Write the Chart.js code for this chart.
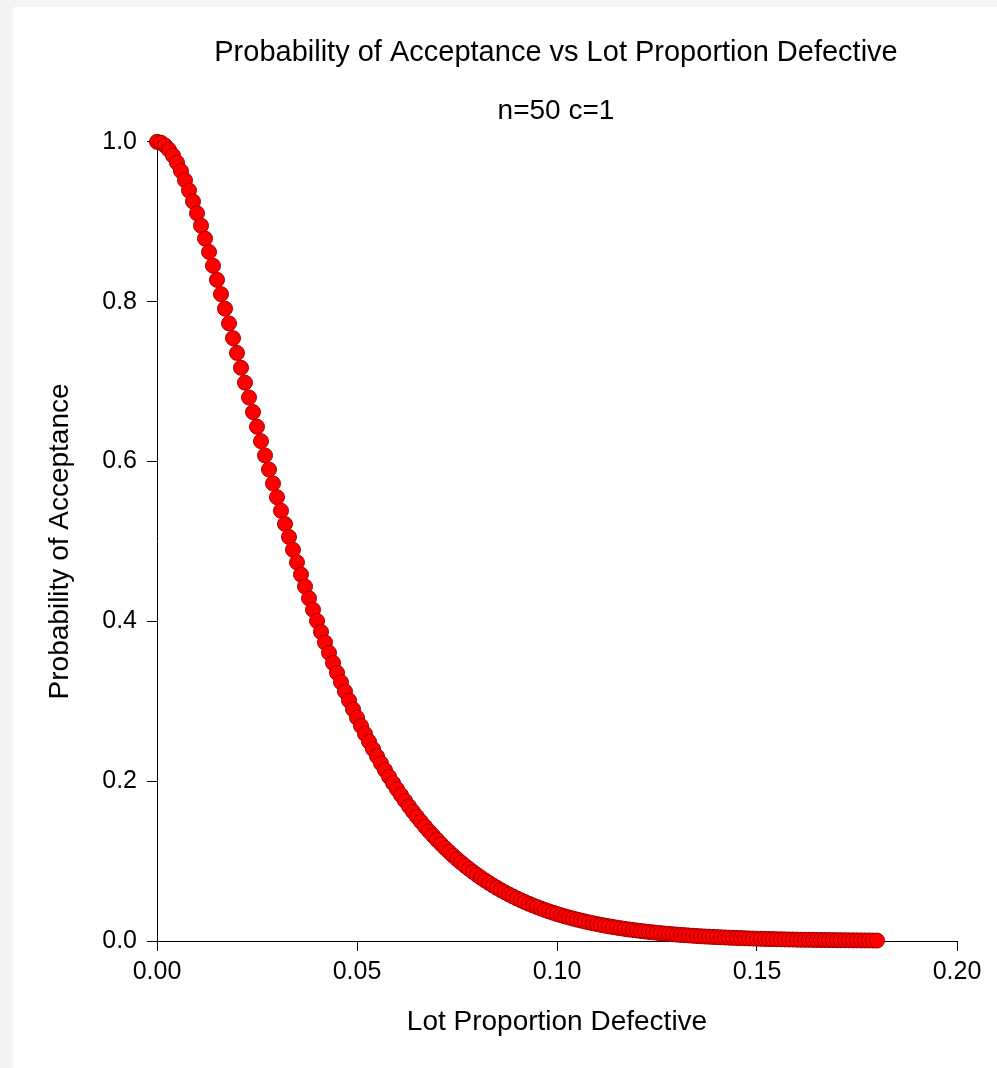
<!DOCTYPE html>
<html>
<head>
<meta charset="utf-8">
<title>Probability of Acceptance vs Lot Proportion Defective</title>
<script src="https://cdn.jsdelivr.net/npm/chart.js@4.4.1/dist/chart.umd.min.js"></script>
<style>
  html, body { margin: 0; padding: 0; background: #f4f4f4; overflow: hidden; }
  #oc-chart { position: absolute; left: 13px; top: 7px; background: #ffffff; }
</style>
</head>
<body>
<canvas id="oc-chart" width="1086" height="1061"></canvas>
<script>
// OC curve, single sampling plan n=50 c=1
const lotDefective = [
  0.000, 0.001, 0.002, 0.003, 0.004, 0.005, 0.006, 0.007, 0.008, 0.009,
  0.010, 0.011, 0.012, 0.013, 0.014, 0.015, 0.016, 0.017, 0.018, 0.019,
  0.020, 0.021, 0.022, 0.023, 0.024, 0.025, 0.026, 0.027, 0.028, 0.029,
  0.030, 0.031, 0.032, 0.033, 0.034, 0.035, 0.036, 0.037, 0.038, 0.039,
  0.040, 0.041, 0.042, 0.043, 0.044, 0.045, 0.046, 0.047, 0.048, 0.049,
  0.050, 0.051, 0.052, 0.053, 0.054, 0.055, 0.056, 0.057, 0.058, 0.059,
  0.060, 0.061, 0.062, 0.063, 0.064, 0.065, 0.066, 0.067, 0.068, 0.069,
  0.070, 0.071, 0.072, 0.073, 0.074, 0.075, 0.076, 0.077, 0.078, 0.079,
  0.080, 0.081, 0.082, 0.083, 0.084, 0.085, 0.086, 0.087, 0.088, 0.089,
  0.090, 0.091, 0.092, 0.093, 0.094, 0.095, 0.096, 0.097, 0.098, 0.099,
  0.100, 0.101, 0.102, 0.103, 0.104, 0.105, 0.106, 0.107, 0.108, 0.109,
  0.110, 0.111, 0.112, 0.113, 0.114, 0.115, 0.116, 0.117, 0.118, 0.119,
  0.120, 0.121, 0.122, 0.123, 0.124, 0.125, 0.126, 0.127, 0.128, 0.129,
  0.130, 0.131, 0.132, 0.133, 0.134, 0.135, 0.136, 0.137, 0.138, 0.139,
  0.140, 0.141, 0.142, 0.143, 0.144, 0.145, 0.146, 0.147, 0.148, 0.149,
  0.150, 0.151, 0.152, 0.153, 0.154, 0.155, 0.156, 0.157, 0.158, 0.159,
  0.160, 0.161, 0.162, 0.163, 0.164, 0.165, 0.166, 0.167, 0.168, 0.169,
  0.170, 0.171, 0.172, 0.173, 0.174, 0.175, 0.176, 0.177, 0.178, 0.179,
  0.180
];
const probAccept = [
  1.0000, 0.9988, 0.9954, 0.9900, 0.9827, 0.9739, 0.9635, 0.9519, 0.9391, 0.9253,
  0.9106, 0.8951, 0.8789, 0.8622, 0.8449, 0.8273, 0.8094, 0.7912, 0.7728, 0.7543,
  0.7358, 0.7172, 0.6986, 0.6801, 0.6618, 0.6435, 0.6254, 0.6075, 0.5899, 0.5724,
  0.5553, 0.5384, 0.5218, 0.5055, 0.4895, 0.4738, 0.4585, 0.4435, 0.4288, 0.4145,
  0.4005, 0.3868, 0.3735, 0.3606, 0.3480, 0.3357, 0.3238, 0.3122, 0.3010, 0.2900,
  0.2794, 0.2691, 0.2592, 0.2495, 0.2402, 0.2311, 0.2223, 0.2138, 0.2056, 0.1977,
  0.1900, 0.1826, 0.1754, 0.1685, 0.1618, 0.1554, 0.1492, 0.1432, 0.1374, 0.1319,
  0.1265, 0.1213, 0.1163, 0.1116, 0.1069, 0.1025, 0.0982, 0.0941, 0.0902, 0.0864,
  0.0827, 0.0792, 0.0758, 0.0726, 0.0695, 0.0665, 0.0636, 0.0609, 0.0582, 0.0557,
  0.0532, 0.0509, 0.0487, 0.0465, 0.0445, 0.0425, 0.0406, 0.0388, 0.0370, 0.0354,
  0.0338, 0.0323, 0.0308, 0.0294, 0.0281, 0.0268, 0.0256, 0.0244, 0.0233, 0.0222,
  0.0212, 0.0202, 0.0192, 0.0183, 0.0175, 0.0167, 0.0159, 0.0151, 0.0144, 0.0138,
  0.0131, 0.0125, 0.0119, 0.0113, 0.0108, 0.0103, 0.0098, 0.0093, 0.0089, 0.0084,
  0.0080, 0.0076, 0.0073, 0.0069, 0.0066, 0.0062, 0.0059, 0.0056, 0.0054, 0.0051,
  0.0049, 0.0046, 0.0044, 0.0042, 0.0040, 0.0038, 0.0036, 0.0034, 0.0032, 0.0031,
  0.0029, 0.0028, 0.0026, 0.0025, 0.0024, 0.0022, 0.0021, 0.0020, 0.0019, 0.0018,
  0.0017, 0.0016, 0.0015, 0.0015, 0.0014, 0.0013, 0.0013, 0.0012, 0.0011, 0.0011,
  0.0010, 0.0010, 0.0009, 0.0009, 0.0008, 0.0008, 0.0007, 0.0007, 0.0007, 0.0006,
  0.0006
];
const xTicks = [0, 0.05, 0.1, 0.15, 0.2];
const yTicks = [0, 0.2, 0.4, 0.6, 0.8, 1.0];

const FONT = "'Liberation Sans', Arial, sans-serif";
const points = lotDefective.map((p, i) => ({ x: p, y: probAccept[i] }));

const config = {
  type: "scatter",
  data: {
    datasets: [
      {
        label: "Pa",
        data: points,
        backgroundColor: "#ff0000",
        borderColor: "#a00000",
        borderWidth: 1,
        pointRadius: 7.5,
        pointHoverRadius: 7.5,
        clip: false,
        yAxisID: "y",
      },
    ],
  },
  options: {
    responsive: false,
    animation: false,
    devicePixelRatio: 1,
    layout: {
      padding: 0,
    },
    plugins: {
      legend: { display: false },
      tooltip: { enabled: false },
      title: {
        display: true,
        text: "Probability of Acceptance vs Lot Proportion Defective",
        color: "#000",
        font: { family: FONT, size: 29, weight: "normal" },
        padding: { top: 28.6, bottom: 23.6 },
      },
      subtitle: {
        display: true,
        text: "n=50 c=1",
        color: "#000",
        font: { family: FONT, size: 28, weight: "normal" },
        padding: { top: 0, bottom: 14.2 },
      },
    },
    scales: {
      x: {
        type: "linear",
        min: 0,
        max: 0.2,
        afterBuildTicks: (scale) => {
          scale.ticks = xTicks.map((v) => ({ value: v }));
        },
        afterFit: (scale) => {
          scale.height = 127;
        },
        ticks: {
          color: "#000",
          padding: 6,
          font: { family: FONT, size: 25 },
          callback: (v) => Number(v).toFixed(2),
        },
        grid: {
          drawOnChartArea: false,
          drawTicks: true,
          tickLength: 10,
          tickColor: "#000",
        },
        border: { display: true, color: "#000", width: 1 },
        title: {
          display: true,
          text: "Lot Proportion Defective",
          color: "#000",
          font: { family: FONT, size: 28 },
          padding: { top: 0, bottom: 29 },
        },
      },
      y: {
        type: "linear",
        position: "left",
        min: 0,
        max: 1,
        afterBuildTicks: (scale) => {
          scale.ticks = yTicks.map((v) => ({ value: v }));
        },
        afterFit: (scale) => {
          scale.width = 144;
        },
        ticks: {
          color: "#000",
          padding: 10,
          font: { family: FONT, size: 25 },
          callback: (v) => Number(v).toFixed(1),
        },
        grid: {
          drawOnChartArea: false,
          drawTicks: true,
          tickLength: 10,
          tickColor: "#000",
        },
        border: { display: true, color: "#000", width: 1 },
        title: {
          display: true,
          text: "Probability of Acceptance",
          color: "#000",
          font: { family: FONT, size: 28 },
          padding: { top: 30, bottom: 0 },
        },
      },
      // empty right-hand axis, only reserves the space on the right side
      yRight: {
        type: "linear",
        position: "right",
        min: 0,
        max: 1,
        afterFit: (scale) => {
          scale.width = 142;
        },
        ticks: { display: false },
        grid: { display: false, drawTicks: false },
        border: { display: false },
      },
    },
  },
};

const ocChart = new Chart(document.getElementById("oc-chart"), config);
</script>
</body>
</html>
